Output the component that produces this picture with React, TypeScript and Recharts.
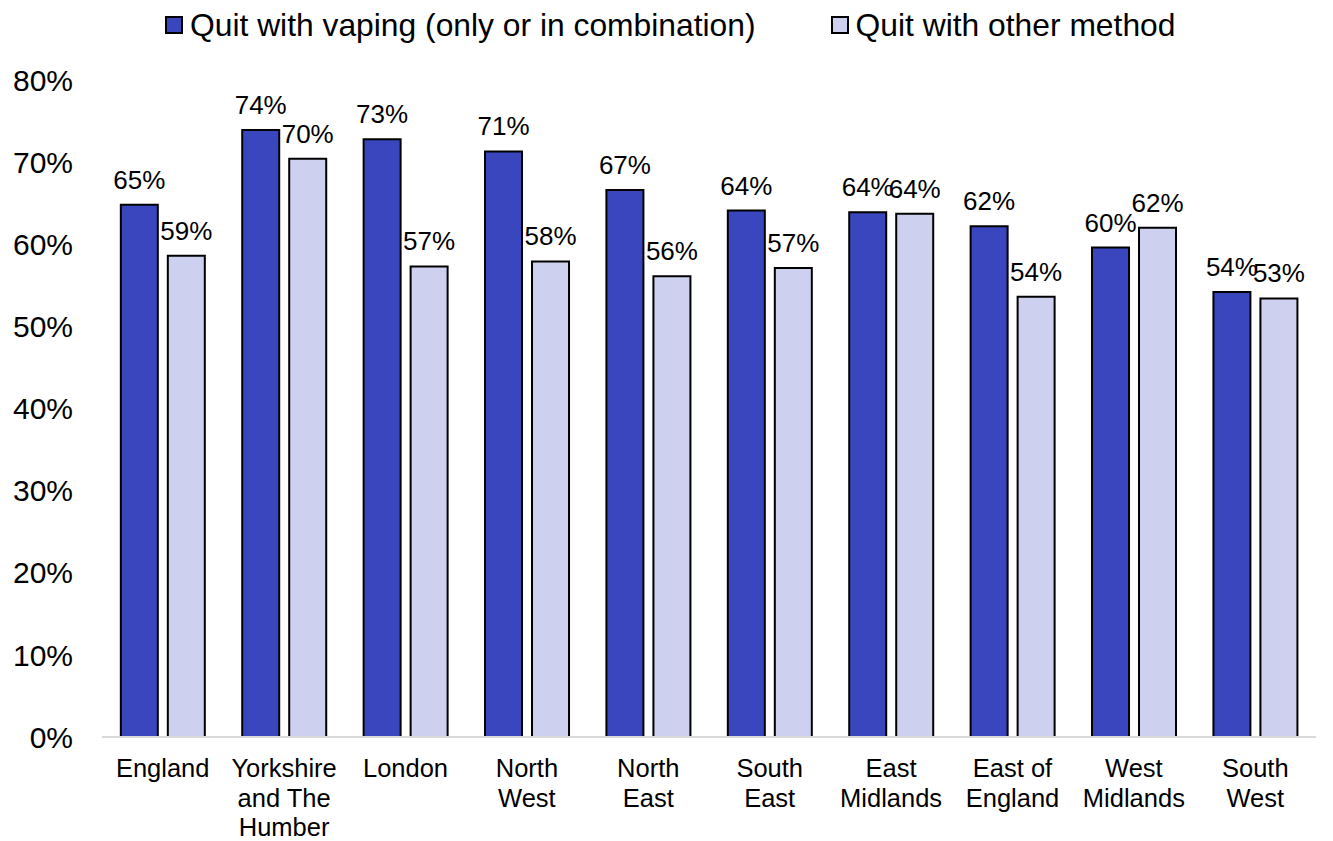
import React from 'react';
import { BarChart, Bar, XAxis, YAxis, Legend, LabelList } from 'recharts';

const regions = [
  'England',
  'Yorkshire\nand The\nHumber',
  'London',
  'North\nWest',
  'North\nEast',
  'South\nEast',
  'East\nMidlands',
  'East of\nEngland',
  'West\nMidlands',
  'South\nWest',
];
const vaping = [64.8, 73.9, 72.8, 71.3, 66.6, 64.1, 63.9, 62.2, 59.6, 54.2];
const other = [58.6, 70.4, 57.3, 57.9, 56.1, 57.1, 63.7, 53.6, 62.0, 53.4];
const yTicks = [0, 10, 20, 30, 40, 50, 60, 70, 80];
const seriesNames = ['Quit with vaping (only or in combination)', 'Quit with other method'];
const colors = ['#3A46BD', '#CDD0EE'];

const data = regions.map((r, i) => ({ region: r, vaping: vaping[i], other: other[i] }));

const FONT = '"Liberation Sans", Arial, sans-serif';

const XTick = (props: any) => {
  const { x, y, payload } = props;
  const lines = String(payload.value).split('\n');
  return (
    <text x={x} y={y + 40} textAnchor="middle" fontSize={25.5} fill="#000" fontFamily={FONT}>
      {lines.map((l: string, i: number) => (
        <tspan key={i} x={x} dy={i === 0 ? 0 : 29.5}>
          {l}
        </tspan>
      ))}
    </text>
  );
};

const LegendContent = (props: any) => {
  const items = [...(props.payload || [])].sort(
    (a: any, b: any) => seriesNames.indexOf(a.value) - seriesNames.indexOf(b.value)
  );
  return (
    <div style={{ height: 50, display: 'flex', alignItems: 'center', paddingLeft: 165, fontFamily: FONT, fontSize: 31.8, color: '#000' }}>
      {items.map((p: any, i: number) => (
        <div key={i} style={{ display: 'flex', alignItems: 'center', marginRight: i === 0 ? 75 : 0 }}>
          <div style={{ width: 14, height: 14, background: p.color, border: '2px solid #000', marginRight: 7 }} />
          <span style={{ whiteSpace: 'nowrap', lineHeight: '50px' }}>{p.value}</span>
        </div>
      ))}
    </div>
  );
};

export default function App() {
  return (
    <div style={{ position: 'absolute', left: 0, top: 0, width: 1333, height: 841, background: '#fff' }}>
      <BarChart
        width={1333}
        height={841}
        data={data}
        margin={{ top: 30, right: 17, bottom: 0, left: 0 }}
        barCategoryGap="15.5%"
        barGap={10}
      >
        <Legend
          verticalAlign="top"
          align="left"
          content={<LegendContent />}
          wrapperStyle={{ top: 0, left: 0, width: 1333 }}
        />
        <XAxis
          dataKey="region"
          interval={0}
          height={104}
          tickLine={false}
          tickSize={0}
          tickMargin={0}
          axisLine={{ stroke: '#D9D9D9', strokeWidth: 2 }}
          tick={<XTick />}
        />
        <YAxis
          width={102}
          domain={[0, 80]}
          ticks={yTicks}
          tickFormatter={(v: number) => `${v}%`}
          axisLine={false}
          tickLine={false}
          tickSize={0}
          tickMargin={29}
          tick={{ fontSize: 30, fill: '#000', fontFamily: FONT }}
          interval={0}
        />
        <Bar dataKey="vaping" name={seriesNames[0]} fill={colors[0]} stroke="#000" strokeWidth={2} isAnimationActive={false}>
          <LabelList
            dataKey="vaping"
            position="top"
            offset={16}
            formatter={(v: any) => `${Math.round(Number(v))}%`}
            style={{ fontSize: 26, fill: '#000', fontFamily: FONT }}
          />
        </Bar>
        <Bar dataKey="other" name={seriesNames[1]} fill={colors[1]} stroke="#000" strokeWidth={2} isAnimationActive={false}>
          <LabelList
            dataKey="other"
            position="top"
            offset={16}
            formatter={(v: any) => `${Math.round(Number(v))}%`}
            style={{ fontSize: 26, fill: '#000', fontFamily: FONT }}
          />
        </Bar>
      </BarChart>
    </div>
  );
}
